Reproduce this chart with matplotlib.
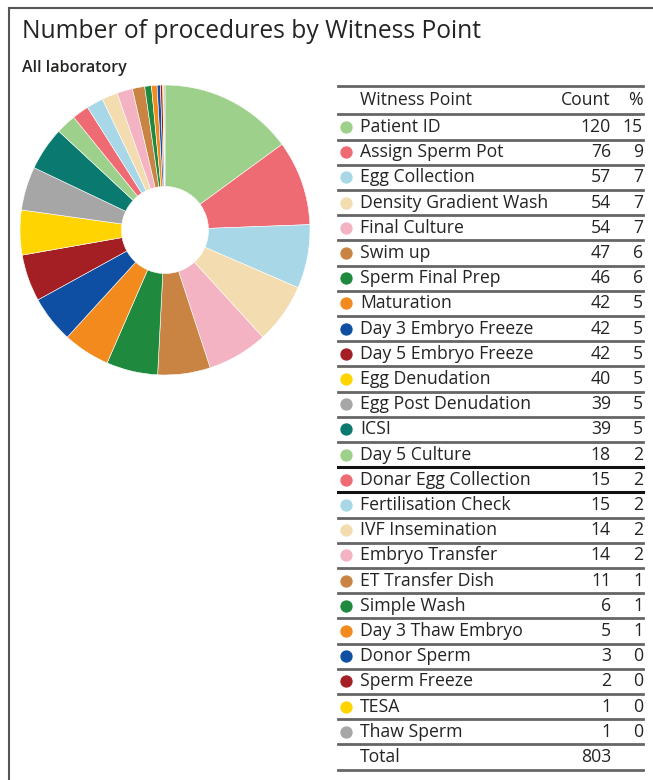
import matplotlib
matplotlib.use("Agg")
import matplotlib.pyplot as plt

# ---- data ----
witness_points = [
    "Patient ID", "Assign Sperm Pot", "Egg Collection", "Density Gradient Wash",
    "Final Culture", "Swim up", "Sperm Final Prep", "Maturation",
    "Day 3 Embryo Freeze", "Day 5 Embryo Freeze", "Egg Denudation",
    "Egg Post Denudation", "ICSI", "Day 5 Culture", "Donar Egg Collection",
    "Fertilisation Check", "IVF Insemination", "Embryo Transfer",
    "ET Transfer Dish", "Simple Wash", "Day 3 Thaw Embryo", "Donor Sperm",
    "Sperm Freeze", "TESA", "Thaw Sperm",
]
counts = [120, 76, 57, 54, 54, 47, 46, 42, 42, 42, 40, 39, 39, 18, 15, 15, 14, 14,
          11, 6, 5, 3, 2, 1, 1]
percents = [15, 9, 7, 7, 7, 6, 6, 5, 5, 5, 5, 5, 5, 2, 2, 2, 2, 2, 1, 1, 1, 0, 0, 0, 0]
total = 803
palette = ["#9dd08a", "#ef6b73", "#a8d8e8", "#f3dcb0", "#f4b3c2", "#c98443",
           "#1f8a3e", "#f28a1e", "#0e4fa3", "#a31f24", "#ffd400", "#a6a6a6",
           "#0a7a70"]
colors = [palette[i % len(palette)] for i in range(len(counts))]

W, H = 653, 780
plt.rcParams['font.family'] = ['Open Sans', 'DejaVu Sans']
fig = plt.figure(figsize=(W / 100, H / 100), dpi=100)
fig.patch.set_facecolor("white")

# overlay axes in pixel coordinates
ov = fig.add_axes([0, 0, 1, 1])
ov.set_xlim(0, W)
ov.set_ylim(H, 0)
ov.axis("off")

# frame (left and top)
ov.plot([9, 9], [8, H], color="#555555", lw=1.5)
ov.plot([9, W], [8, 8], color="#555555", lw=1.5)

txt = "#252423"
ov.text(22, 32, "Number of procedures by Witness Point", fontsize=17.7, color=txt,
        va="center", ha="left")
ov.text(22, 68, "All laboratory", fontsize=11.5, fontweight="semibold", color=txt,
        va="center", ha="left")

# pie
cx, cy, r = 165, 230, 145
pax = fig.add_axes([(cx - r) / W, (H - cy - r) / H, 2 * r / W, 2 * r / H])
pax.pie(counts, colors=colors, startangle=90, counterclock=False,
        wedgeprops=dict(width=0.7, edgecolor="white", linewidth=0.4))
pax.set_aspect("equal")
pax.set_xlim(-1, 1)
pax.set_ylim(-1, 1)

# table
x0, x1 = 338, 643
x_dot, x_name, x_count, x_pct = 346, 360, 611, 643
fs = 12.7
ov.plot([x0, x1], [86, 86], color="#666666", lw=2)
ov.text(x_name, 100, "Witness Point", fontsize=fs, color=txt, va="center")
ov.text(x_count, 100, "Count", fontsize=fs, color=txt, va="center", ha="right")
ov.text(x_pct, 100, "%", fontsize=fs, color=txt, va="center", ha="right")
ov.plot([x0, x1], [114, 114], color="#666666", lw=2)

y0, dy = 127, 25.2
for i, (name, c, p, col) in enumerate(zip(witness_points, counts, percents, colors)):
    y = y0 + i * dy
    ov.scatter([x_dot], [y], s=62, color=col, zorder=3)
    ov.text(x_name, y, name, fontsize=fs, color=txt, va="center")
    ov.text(x_count, y, str(c), fontsize=fs, color=txt, va="center", ha="right")
    ov.text(x_pct, y, str(p), fontsize=fs, color=txt, va="center", ha="right")
    ly = y + dy / 2
    if name in ("Day 5 Culture", "Donar Egg Collection"):
        ov.plot([x0, x1], [ly, ly], color="#111111", lw=2.2)
    else:
        ov.plot([x0, x1], [ly, ly], color="#666666", lw=2)

yt = y0 + len(counts) * dy
ov.text(x_name, yt, "Total", fontsize=fs, color=txt, va="center")
ov.text(x_count, yt, str(total), fontsize=fs, color=txt, va="center", ha="right")
ov.plot([x0, x1], [yt + 12.6, yt + 12.6], color="#666666", lw=2)

fig.savefig("out.png", dpi=100, facecolor="white")
